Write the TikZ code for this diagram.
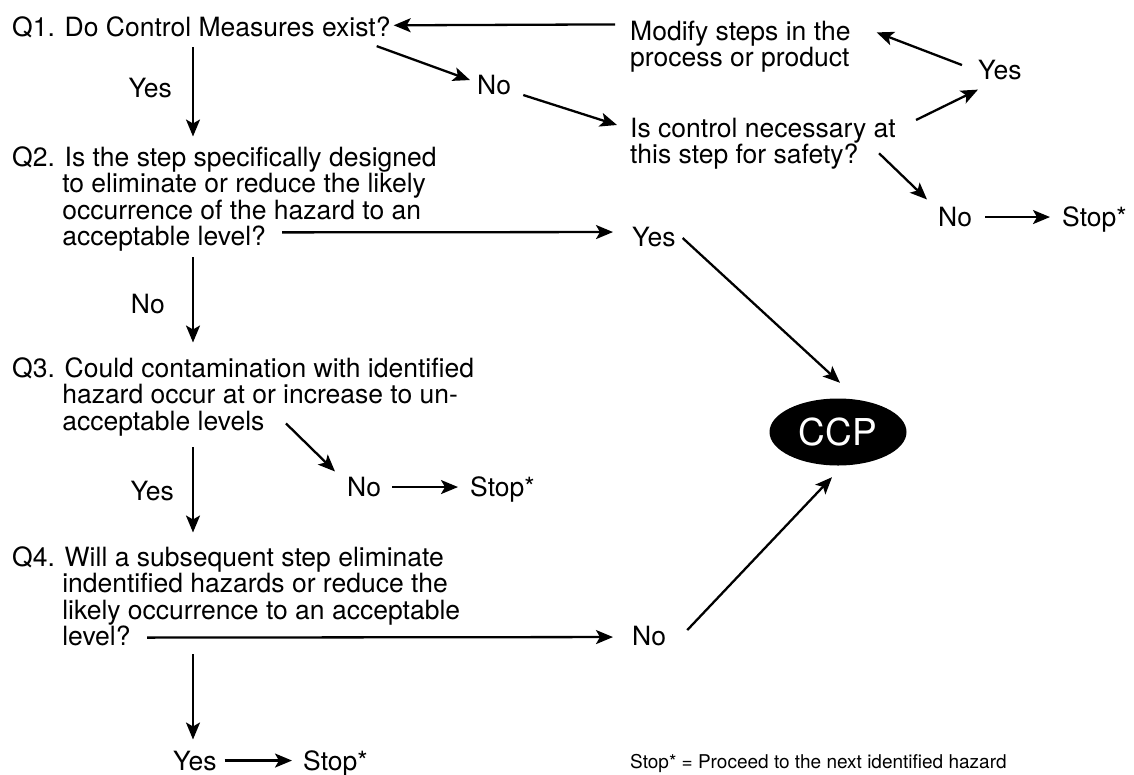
\documentclass[tikz,border=0pt]{standalone}
\usepackage{fontspec}
\setmainfont{TeX Gyre Heros}
\usetikzlibrary{arrows.meta,shapes.geometric,calc}
\newcommand{\qind}{\hphantom{Q2.\ }}
\tikzset{
	txt/.style={anchor=base west,inner sep=0pt,align=left,font=\fontsize{26.5}{26.3}\selectfont},
	arr/.style={-{Stealth[length=17pt,width=14pt,inset=4pt]},line width=2.3pt},
	ccpnode/.style={ellipse,fill=black,text=white,minimum width=137pt,minimum height=67pt,inner sep=0pt,font=\fontsize{37}{37}\selectfont}
}
\begin{document}
\begin{tikzpicture}[x=1pt,y=-1pt]
		\useasboundingbox (0,0) rectangle (1134,774);
		\coordinate (spine) at (193,0);
		\node[txt] (q1) at (12,36.5) {Q1. Do Control Measures exist?};
		\node[txt] (q2) at (12,245.4) {Q2. Is the step specifically designed\\\qind to eliminate or reduce the likely\\\qind occurrence of the hazard to an\\\qind acceptable level?};
		\node[txt] (q3) at (12,430.1) {Q3. Could contamination with identified\\\qind hazard occur at or increase to un-\\\qind acceptable levels};
		\node[txt] (q4) at (12,645.4) {Q4. Will a subsequent step eliminate\\\qind indentified hazards or reduce the\\\qind likely occurrence to an acceptable\\\qind level?};
		\node[txt] (modify) at (630,66.3) {Modify steps in the\\process or product};
		\node[txt] (noA) at (477,94.5) {No};
		\node[txt] (isctrl) at (630,163.8) {Is control necessary at\\this step for safety?};
		\node[txt] (yesA) at (978,79.5) {Yes};
		\node[txt] (noB) at (938,226.5) {No};
		\node[txt] (stopA) at (1062,226.5) {Stop*};
		\node[txt] (yesB) at (632,246.5) {Yes};
		\node[ccpnode] (ccp) at (838,432) {CCP};
		\node[txt] (noC) at (347,496.5) {No};
		\node[txt] (stopB) at (470,496.5) {Stop*};
		\node[txt] (noD) at (632,645) {No};
		\node[txt] (yesC) at (173,770) {Yes};
		\node[txt] (stopC) at (303,770) {Stop*};
		\node[txt,font=\fontsize{19}{19}\selectfont] (legend) at (630,768) {Stop* = Proceed to the next identified hazard};
		\draw[arr] ($(modify.north west)+(-15,4)$) -- ($(q1.east)+(3,-2)$);
		\draw[arr] ($(q1.south east)+(-14,8)$) -- ($(noA.west)+(-7,-5)$);
		\draw[arr] ($(noA.east)+(12,10)$) -- ($(isctrl.north west)+(-13,7)$);
		\draw[arr] ($(isctrl.north east)+(20,2)$) -- ($(yesA.south west)+(0,9.5)$);
		\draw[arr] ($(yesA.west)+(-16,-5)$) -- ($(modify.north east)+(26,12)$);
		\draw[arr] ($(isctrl.east)+(-17,9.4)$) -- ($(noB.north west)+(-11,-7.5)$);
		\draw[arr,shorten <=13pt,shorten >=12pt] (noB.east) -- (stopA.west |- noB.east);
		\draw[arr,shorten <=9pt,shorten >=10pt] (q1.south -| spine) -- (q2.north -| spine) node[txt,midway,left=20pt,yshift=4pt] (yesQ1) {Yes};
		\draw[arr] ($(q2.south west)+(270,-19)$) -- ($(yesB.west)+(-19,-5)$);
		\draw[arr] ($(yesB.east)+(7,1)$) -- ($(ccp.north)+(2,-15.5)$);
		\draw[arr,shorten <=6pt,shorten >=15pt] (q2.south -| spine) -- (q3.north -| spine) node[txt,midway,left=27pt] (noQ2) {No};
		\draw[arr] ($(q3.south west)+(274,-12.6)$) -- ($(noC.north west)+(-12,-5.5)$);
		\draw[arr,shorten <=11pt,shorten >=12pt] (noC.east) -- (stopB.west |- noC.east);
		\draw[arr,shorten <=11pt,shorten >=14pt] (q3.south -| spine) -- (q4.north -| spine) node[txt,midway,left=18pt] (yesQ3) {Yes};
		\draw[arr] ($(q4.south west)+(135,-8.4)$) -- ($(noD.west)+(-19,1.5)$);
		\draw[arr] ($(noD.east)+(21,-5.5)$) -- ($(ccp.south)+(-6,11.5)$);
		\draw[arr,shorten <=8pt,shorten >=11pt] (q4.south -| spine) -- (yesC.north -| spine);
		\draw[arr,shorten <=8pt,shorten >=11pt] (yesC.east) -- (stopC.west |- yesC.east);
	\end{tikzpicture}
\end{document}
